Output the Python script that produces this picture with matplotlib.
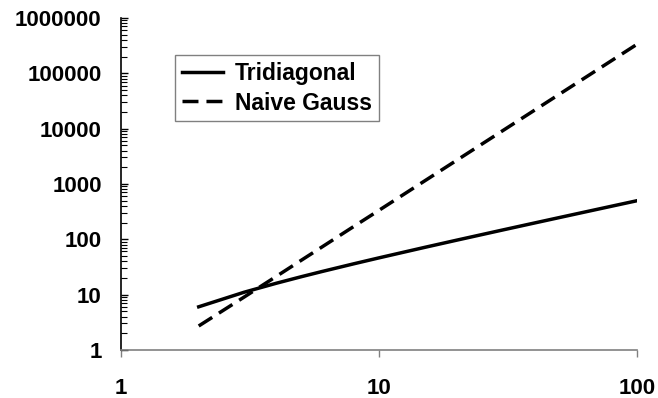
import matplotlib.pyplot as plt
from matplotlib.ticker import LogLocator, FixedLocator, NullFormatter

plt.rcParams['font.family'] = ['Liberation Sans', 'DejaVu Sans']
plt.rcParams['font.weight'] = 'bold'

# values
n_values = [2, 3, 4, 5, 6, 8, 10, 15, 20, 30, 40, 50, 70, 100]
tridiagonal = [6, 11, 16, 21, 26, 36, 46, 71, 96, 146, 196, 246, 346, 496]
naive_gauss = [2.7, 9, 21.3, 41.7, 72, 171, 333, 1125, 2667, 9000, 21333,
               41667, 114333, 333333]

x_ticks = [1, 10, 100]
y_ticks = [1, 10, 100, 1000, 10000, 100000, 1000000]

fig = plt.figure(figsize=(6.58, 3.98), dpi=100)
ax = fig.add_axes([0.184, 0.121, 0.784, 0.834])

ax.plot(n_values, tridiagonal, color='black', linewidth=2.5, label='Tridiagonal')
ax.plot(n_values, naive_gauss, color='black', linewidth=2.5, dashes=(4.6, 2.3),
        label='Naive Gauss')

ax.set_xscale('log')
ax.set_yscale('log')
ax.set_xlim(1, 100)
ax.set_ylim(1, 1000000)

ax.xaxis.set_major_locator(FixedLocator(x_ticks))
ax.xaxis.set_minor_locator(FixedLocator([]))
ax.set_xticklabels([str(v) for v in x_ticks])
ax.yaxis.set_major_locator(FixedLocator(y_ticks))
ax.yaxis.set_minor_locator(LogLocator(base=10, subs=range(2, 10), numticks=20))
ax.yaxis.set_minor_formatter(NullFormatter())
ax.set_yticklabels([str(v) for v in y_ticks])

ax.tick_params(axis='x', which='major', direction='out', length=5, width=1,
               color='#808080', pad=15, labelsize=16)
ax.tick_params(axis='y', which='major', direction='in', length=5, width=1,
               pad=14, labelsize=16)
ax.tick_params(axis='y', which='minor', direction='in', length=4, width=0.8)

ax.spines['top'].set_visible(False)
ax.spines['right'].set_visible(False)
ax.spines['bottom'].set_color('#808080')
ax.spines['bottom'].set_linewidth(1.2)
ax.spines['left'].set_color('black')
ax.spines['left'].set_linewidth(1.2)

leg = ax.legend(loc='upper left', bbox_to_anchor=(0.105, 0.889), borderaxespad=0,
                fancybox=False, edgecolor='#808080', framealpha=1,
                prop={'size': 16.5, 'weight': 'bold'}, handlelength=1.8,
                handletextpad=0.5, labelspacing=0.3, borderpad=0.3)
leg.get_frame().set_linewidth(1)

fig.savefig('out.png', dpi=100)
